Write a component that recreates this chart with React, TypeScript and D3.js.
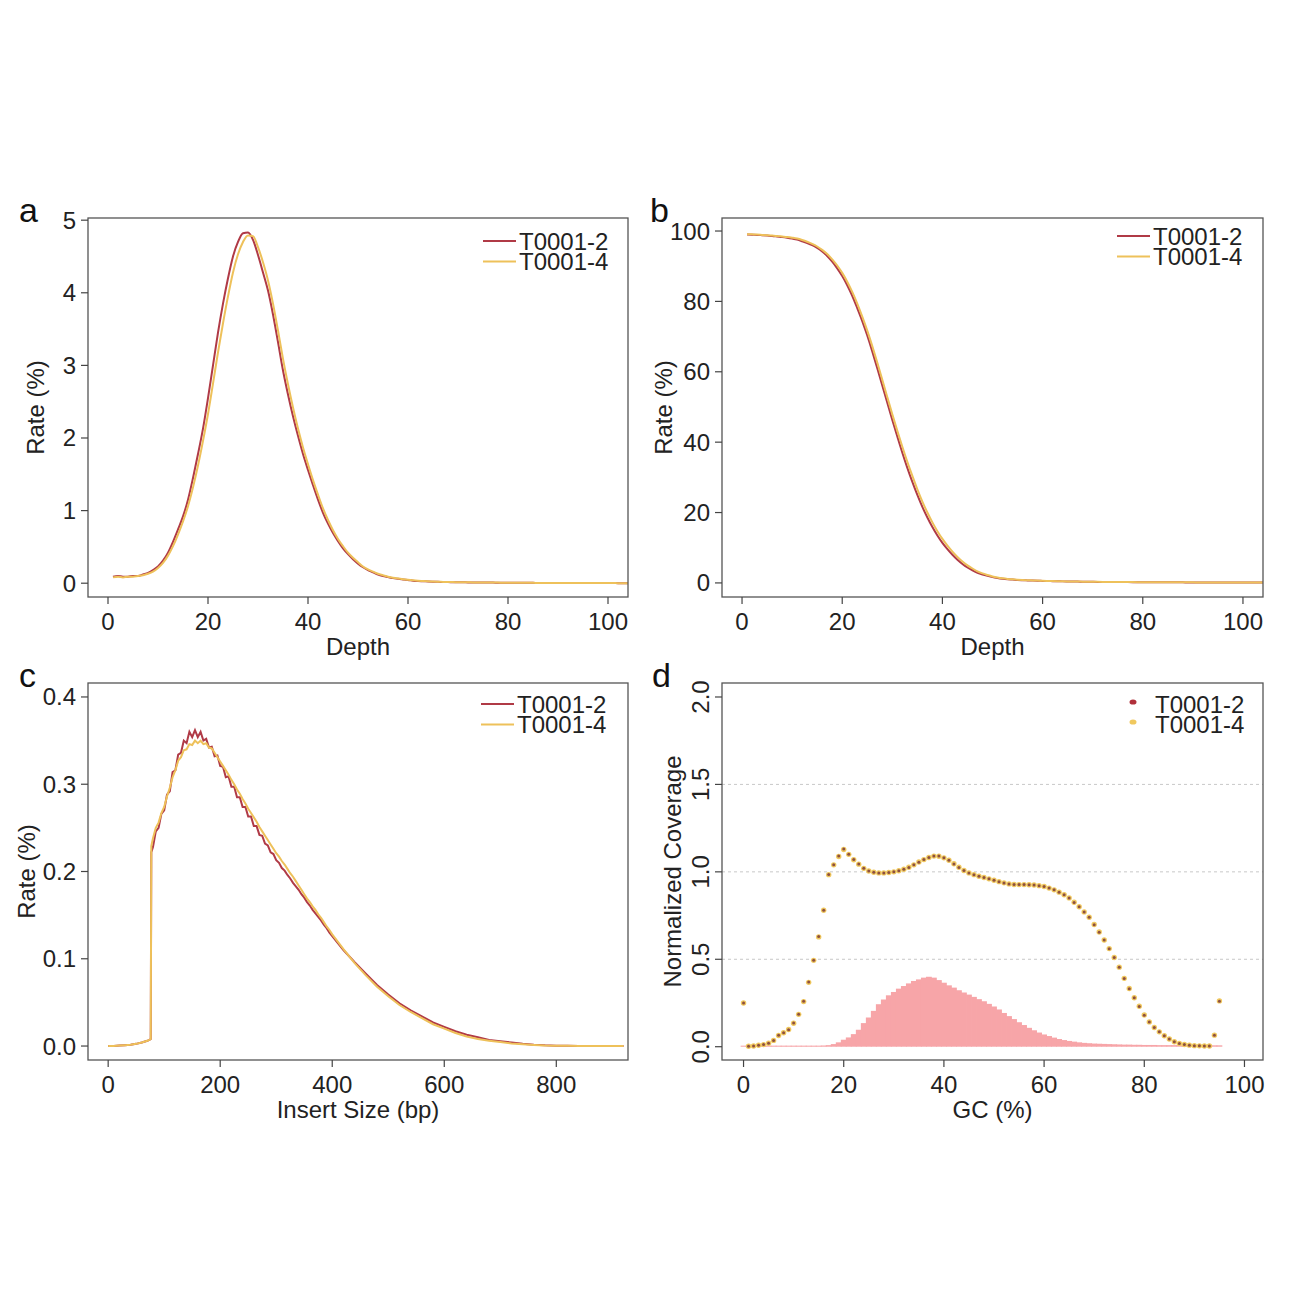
import React from "react";
import * as d3 from "d3";

const FONT = "'Liberation Sans', Arial, Helvetica, sans-serif";
const RED = "#B03A46";
const YEL = "#EEC15A";
const PINK = "#F7A5A8";
const PT_RED = "#B0303A";
const PT_CORE = "#8E5040";
const PT_GOLD = "#F0C85E";

const seriesNames = ["T0001-2", "T0001-4"];

// ---------- Panel a: depth distribution ----------
const depthA = Array.from({ length: 104 }, (_, i) => i + 1);
const rateA_T2 = [
  0.09, 0.10, 0.09, 0.09, 0.10, 0.10, 0.12, 0.14, 0.18, 0.23,
  0.31, 0.42, 0.57, 0.74, 0.92, 1.15, 1.45, 1.78, 2.13, 2.55,
  3.00, 3.45, 3.85, 4.20, 4.50, 4.70, 4.82, 4.83, 4.73, 4.52,
  4.28, 4.03, 3.70, 3.32, 2.93, 2.60, 2.30, 2.03, 1.78, 1.56,
  1.35, 1.15, 0.97, 0.82, 0.69, 0.58, 0.48, 0.40, 0.33, 0.27,
  0.22, 0.18, 0.15, 0.12, 0.10, 0.085, 0.07, 0.06, 0.05, 0.045,
  0.035, 0.03, 0.027, 0.024, 0.021, 0.019, 0.017, 0.015, 0.014, 0.013,
  0.012, 0.011, 0.010, 0.009, 0.009, 0.008, 0.008, 0.007, 0.007, 0.006,
  0.006, 0.005, 0.005, 0.005, 0.005, 0.004, 0.004, 0.004, 0.004, 0.003,
  0.003, 0.003, 0.003, 0.003, 0.002, 0.002, 0.002, 0.002, 0.002, 0.002,
  0.002, 0.001, 0.001, 0.001,
];
const rateA_T4 = [
  0.08, 0.09, 0.08, 0.09, 0.09, 0.10, 0.11, 0.13, 0.16, 0.21,
  0.28, 0.38, 0.51, 0.67, 0.85, 1.06, 1.32, 1.62, 1.96, 2.33,
  2.75, 3.18, 3.58, 3.95, 4.28, 4.53, 4.70, 4.79, 4.78, 4.63,
  4.42, 4.17, 3.85, 3.48, 3.09, 2.74, 2.42, 2.13, 1.87, 1.64,
  1.42, 1.22, 1.03, 0.87, 0.73, 0.61, 0.51, 0.42, 0.35, 0.29,
  0.23, 0.19, 0.16, 0.13, 0.11, 0.09, 0.075, 0.064, 0.055, 0.048,
  0.04, 0.034, 0.03, 0.026, 0.023, 0.02, 0.018, 0.016, 0.015, 0.014,
  0.013, 0.012, 0.011, 0.010, 0.009, 0.009, 0.008, 0.008, 0.007, 0.007,
  0.006, 0.006, 0.005, 0.005, 0.005, 0.004, 0.004, 0.004, 0.004, 0.003,
  0.003, 0.003, 0.003, 0.003, 0.002, 0.002, 0.002, 0.002, 0.002, 0.002,
  0.002, 0.001, 0.001, 0.001,
];

// ---------- Panel b: cumulative depth ----------
const cumB_T2 = [
  99.0, 98.95, 98.9, 98.8, 98.7, 98.6, 98.45, 98.3, 98.1, 97.85,
  97.55, 97.1, 96.6, 96.0, 95.2, 94.2, 92.9, 91.3, 89.4, 87.2,
  84.6, 81.6, 78.1, 74.4, 70.3, 65.8, 61.0, 56.1, 51.2, 46.3,
  41.6, 37.0, 32.7, 28.7, 25.0, 21.6, 18.6, 15.9, 13.5, 11.4,
  9.6, 8.0, 6.6, 5.4, 4.4, 3.6, 2.9, 2.4, 2.0, 1.65,
  1.4, 1.2, 1.05, 0.95, 0.85, 0.78, 0.72, 0.67, 0.62, 0.58,
  0.54, 0.5, 0.47, 0.44, 0.41, 0.39, 0.37, 0.35, 0.33, 0.31,
  0.29, 0.28, 0.27, 0.26, 0.25, 0.24, 0.23, 0.22, 0.21, 0.2,
  0.19, 0.19, 0.18, 0.18, 0.17, 0.17, 0.16, 0.16, 0.15, 0.15,
  0.14, 0.14, 0.13, 0.13, 0.13, 0.12, 0.12, 0.12, 0.11, 0.11,
  0.11, 0.1, 0.1, 0.1,
];
const cumB_T4 = [
  99.1, 99.05, 99.0, 98.9, 98.8, 98.7, 98.6, 98.45, 98.3, 98.1,
  97.85, 97.45, 96.95, 96.35, 95.6, 94.65, 93.45, 91.95, 90.2, 88.1,
  85.6, 82.7, 79.4, 75.7, 71.7, 67.3, 62.6, 57.7, 52.8, 47.9,
  43.2, 38.7, 34.4, 30.4, 26.6, 23.1, 20.0, 17.2, 14.7, 12.5,
  10.6, 8.9, 7.4, 6.1, 5.0, 4.1, 3.3, 2.7, 2.25, 1.85,
  1.55, 1.32, 1.14, 1.02, 0.92, 0.84, 0.77, 0.71, 0.66, 0.61,
  0.56, 0.52, 0.49, 0.46, 0.43, 0.4, 0.38, 0.36, 0.34, 0.32,
  0.3, 0.29, 0.28, 0.27, 0.26, 0.25, 0.24, 0.23, 0.22, 0.21,
  0.2, 0.2, 0.19, 0.19, 0.18, 0.18, 0.17, 0.17, 0.16, 0.16,
  0.15, 0.15, 0.14, 0.14, 0.14, 0.13, 0.13, 0.13, 0.12, 0.12,
  0.12, 0.11, 0.11, 0.11,
];

// ---------- Panel c: insert size ----------
const insertSize = [
  0, 10, 20, 30, 40, 50, 60, 70, 75, 76, 77,
  80, 85, 90, 95, 100, 105, 110, 115, 120, 125, 130, 135, 140, 145, 150, 155,
  160, 165, 170, 175, 180, 185, 190, 195, 200, 205, 210, 215, 220, 225, 230,
  235, 240, 245, 250, 255, 260, 265, 270, 275, 280, 285, 290, 295, 300, 305,
  310, 315, 320, 325, 330, 335, 340, 345, 350, 355, 360, 365, 370, 375, 380,
  385, 390, 395, 400,
  420, 440, 460, 480, 500, 520, 540, 560, 580, 600, 620, 640, 660, 680, 700,
  720, 740, 760, 780, 800, 820, 840, 860, 880, 900, 920,
];
const rateC_T2 = [
  0, 0, 0.0005, 0.001, 0.0015, 0.0025, 0.004, 0.006, 0.0075, 0.008, 0.222,
  0.228, 0.246, 0.250, 0.266, 0.270, 0.288, 0.292, 0.314, 0.316, 0.334, 0.336,
  0.350, 0.347, 0.360, 0.354, 0.362, 0.354, 0.360, 0.350, 0.352, 0.342, 0.343,
  0.332, 0.333, 0.321, 0.320, 0.308, 0.309, 0.297, 0.297, 0.285, 0.285, 0.274,
  0.274, 0.263, 0.263, 0.252, 0.252, 0.242, 0.241, 0.232, 0.230, 0.222, 0.220,
  0.213, 0.210, 0.204, 0.201, 0.196, 0.192, 0.187, 0.183, 0.179, 0.174, 0.170,
  0.165, 0.161, 0.156, 0.152, 0.148, 0.144, 0.139, 0.135, 0.130, 0.126,
  0.110, 0.096, 0.083, 0.070, 0.059, 0.049, 0.041, 0.034, 0.027, 0.022, 0.017,
  0.013, 0.010, 0.007, 0.0055, 0.004, 0.0025, 0.0015, 0.0008, 0.0004, 0.0002,
  0.0001, 0, 0, 0, 0,
];
const rateC_T4 = [
  0, 0, 0.0005, 0.001, 0.0015, 0.0025, 0.004, 0.006, 0.0075, 0.008, 0.229,
  0.238, 0.250, 0.256, 0.267, 0.274, 0.286, 0.296, 0.308, 0.316, 0.327, 0.331,
  0.339, 0.340, 0.346, 0.345, 0.350, 0.347, 0.350, 0.346, 0.347, 0.342, 0.341,
  0.336, 0.331, 0.326, 0.321, 0.316, 0.311, 0.305, 0.300, 0.294, 0.289, 0.283,
  0.278, 0.272, 0.267, 0.262, 0.257, 0.251, 0.246, 0.241, 0.236, 0.231, 0.226,
  0.221, 0.217, 0.212, 0.208, 0.203, 0.198, 0.194, 0.189, 0.184, 0.179, 0.174,
  0.169, 0.165, 0.160, 0.156, 0.151, 0.147, 0.142, 0.137, 0.133, 0.128,
  0.111, 0.095, 0.081, 0.068, 0.057, 0.047, 0.039, 0.032, 0.025, 0.020, 0.015,
  0.011, 0.008, 0.006, 0.0045, 0.003, 0.002, 0.0012, 0.0006, 0.0003, 0.0002,
  0.0001, 0, 0, 0, 0,
];

// ---------- Panel d: GC bias ----------
const gcPct = Array.from({ length: 96 }, (_, i) => i);
const normCov_T2 = [
  0.25, 0.003, 0.004, 0.008, 0.012, 0.02, 0.035, 0.065, 0.08, 0.097,
  0.135, 0.186, 0.26, 0.37, 0.495, 0.63, 0.78, 0.985, 1.04, 1.09,
  1.13, 1.10, 1.07, 1.045, 1.02, 1.005, 0.998, 0.994, 0.994, 0.996,
  1.0, 1.006, 1.015, 1.025, 1.04, 1.055, 1.07, 1.082, 1.09, 1.09,
  1.08, 1.066, 1.045, 1.025, 1.008, 0.993, 0.983, 0.975, 0.967, 0.96,
  0.952, 0.944, 0.936, 0.93, 0.928, 0.927, 0.927, 0.926, 0.925, 0.921,
  0.916, 0.907, 0.897, 0.884, 0.869, 0.85, 0.825, 0.80, 0.77, 0.74,
  0.698, 0.655, 0.61, 0.56, 0.51, 0.455, 0.39, 0.332, 0.28, 0.23,
  0.18, 0.142, 0.11, 0.085, 0.063, 0.044, 0.028, 0.019, 0.013, 0.009,
  0.006, 0.005, 0.004, 0.004, 0.066, 0.26,
];
const normCov_T4 = [
  0.25, 0.003, 0.004, 0.008, 0.012, 0.02, 0.036, 0.064, 0.08, 0.098,
  0.134, 0.185, 0.258, 0.368, 0.494, 0.628, 0.78, 0.984, 1.04, 1.088,
  1.128, 1.10, 1.069, 1.044, 1.02, 1.005, 0.998, 0.994, 0.994, 0.996,
  1.0, 1.006, 1.015, 1.026, 1.04, 1.056, 1.07, 1.082, 1.09, 1.089,
  1.08, 1.066, 1.046, 1.026, 1.008, 0.994, 0.984, 0.975, 0.968, 0.96,
  0.952, 0.944, 0.937, 0.931, 0.928, 0.927, 0.927, 0.926, 0.925, 0.921,
  0.916, 0.907, 0.897, 0.884, 0.869, 0.851, 0.826, 0.80, 0.771, 0.74,
  0.699, 0.656, 0.61, 0.561, 0.51, 0.455, 0.391, 0.333, 0.28, 0.231,
  0.181, 0.142, 0.11, 0.085, 0.063, 0.044, 0.028, 0.019, 0.013, 0.009,
  0.006, 0.005, 0.004, 0.004, 0.066, 0.262,
];
const gcReadDist = [
  0.006, 0.006, 0.006, 0.006, 0.006, 0.006, 0.006, 0.006, 0.006, 0.006,
  0.006, 0.006, 0.006, 0.006, 0.006, 0.006, 0.007, 0.009, 0.015, 0.025,
  0.04, 0.053, 0.072, 0.097, 0.135, 0.167, 0.205, 0.243, 0.27, 0.294,
  0.313, 0.332, 0.347, 0.362, 0.376, 0.385, 0.395, 0.40, 0.395, 0.381,
  0.366, 0.351, 0.338, 0.323, 0.31, 0.298, 0.285, 0.272, 0.26, 0.245,
  0.23, 0.213, 0.193, 0.175, 0.158, 0.14, 0.124, 0.108, 0.094, 0.081,
  0.07, 0.061, 0.052, 0.044, 0.038, 0.033, 0.029, 0.025, 0.022, 0.02,
  0.018, 0.017, 0.016, 0.015, 0.014, 0.013, 0.012, 0.012, 0.011, 0.011,
  0.01, 0.01, 0.01, 0.009, 0.009, 0.009, 0.009, 0.008, 0.008, 0.008,
  0.008, 0.008, 0.008, 0.008, 0.008, 0.008,
];

const depthTicks = [0, 20, 40, 60, 80, 100];
const rateATicks = [0, 1, 2, 3, 4, 5];
const cumTicks = [0, 20, 40, 60, 80, 100];
const insertTicks = [0, 200, 400, 600, 800];
const rateCTicks = [0, 0.1, 0.2, 0.3, 0.4];
const gcTicks = [0, 20, 40, 60, 80, 100];
const covTicks = [0, 0.5, 1, 1.5, 2];
const covGrid = [0.5, 1, 1.5];

type Box = { L: number; R: number; T: number; B: number };

function Frame(props: {
  box: Box;
  x: d3.ScaleLinear<number, number>;
  y: d3.ScaleLinear<number, number>;
  xTicks: number[];
  yTicks: number[];
  yFmt: (v: number) => string;
  xTitle: string;
  yTitle: string;
  yTitleX: number;
  rotY?: boolean;
  letter: string;
  letterX: number;
  children?: React.ReactNode;
  id: string;
}) {
  const { box, x, y } = props;
  const tl = 7;
  return (
    <g fontFamily={FONT} fill="#222">
      <defs>
        <clipPath id={props.id}>
          <rect x={box.L} y={box.T} width={box.R - box.L} height={box.B - box.T} />
        </clipPath>
      </defs>
      <g clipPath={`url(#${props.id})`}>{props.children}</g>
      <rect x={box.L} y={box.T} width={box.R - box.L} height={box.B - box.T} fill="none" stroke="#555" strokeWidth={1.3} />
      {props.xTicks.map((t) => (
        <g key={"xt" + t}>
          <line x1={x(t)} x2={x(t)} y1={box.B} y2={box.B + tl} stroke="#444" strokeWidth={1.2} />
          <text x={x(t)} y={box.B + 24} textAnchor="middle" dominantBaseline="central" fontSize={24}>
            {String(t)}
          </text>
        </g>
      ))}
      {props.yTicks.map((t) => (
        <g key={"yt" + t}>
          <line x1={box.L - tl} x2={box.L} y1={y(t)} y2={y(t)} stroke="#444" strokeWidth={1.2} />
          {props.rotY ? (
            <text
              transform={`translate(${box.L - 22},${y(t)}) rotate(-90)`}
              textAnchor="middle"
              dominantBaseline="central"
              fontSize={24}
            >
              {props.yFmt(t)}
            </text>
          ) : (
            <text x={box.L - 12} y={y(t)} textAnchor="end" dominantBaseline="central" fontSize={24}>
              {props.yFmt(t)}
            </text>
          )}
        </g>
      ))}
      <text x={(box.L + box.R) / 2} y={box.B + 49} textAnchor="middle" dominantBaseline="central" fontSize={24}>
        {props.xTitle}
      </text>
      <text
        transform={`translate(${props.yTitleX},${(box.T + box.B) / 2}) rotate(-90)`}
        textAnchor="middle"
        dominantBaseline="central"
        fontSize={24}
      >
        {props.yTitle}
      </text>
      <text x={props.letterX} y={box.T + 4} fontSize={34} fill="#111">
        {props.letter}
      </text>
    </g>
  );
}

function LineLegend({ x, y }: { x: number; y: number }) {
  return (
    <g fontFamily={FONT} fontSize={24} fill="#222">
      {seriesNames.map((n, i) => (
        <g key={n}>
          <line x1={x} x2={x + 33} y1={y + i * 20.5} y2={y + i * 20.5} stroke={i === 0 ? RED : YEL} strokeWidth={2.2} />
          <text x={x + 36} y={y + i * 20.5} dominantBaseline="central">
            {n}
          </text>
        </g>
      ))}
    </g>
  );
}

export default function App() {
  const boxA: Box = { L: 88, R: 628, T: 218, B: 597 };
  const boxB: Box = { L: 722, R: 1263, T: 218, B: 597 };
  const boxC: Box = { L: 88, R: 628, T: 683, B: 1060 };
  const boxD: Box = { L: 722, R: 1263, T: 683, B: 1060 };

  const xA = d3.scaleLinear().domain([-4, 104]).range([boxA.L, boxA.R]);
  const yA = d3.scaleLinear().domain([-0.19, 5.03]).range([boxA.B, boxA.T]);
  const xB = d3.scaleLinear().domain([-4, 104]).range([boxB.L, boxB.R]);
  const yB = d3.scaleLinear().domain([-4, 103.7]).range([boxB.B, boxB.T]);
  const xC = d3.scaleLinear().domain([-36, 928]).range([boxC.L, boxC.R]);
  const yC = d3.scaleLinear().domain([-0.016, 0.416]).range([boxC.B, boxC.T]);
  const xD = d3.scaleLinear().domain([-4.3, 103.7]).range([boxD.L, boxD.R]);
  const yD = d3.scaleLinear().domain([-0.076, 2.08]).range([boxD.B, boxD.T]);

  const mkSmooth = (xs: number[], ys: number[], sx: any, sy: any) =>
    d3.line<number>().x((_, i) => sx(xs[i])).y((d) => sy(d)).curve(d3.curveMonotoneX)(ys) || "";
  const mk = (xs: number[], ys: number[], sx: any, sy: any) =>
    d3.line<number>().x((_, i) => sx(xs[i])).y((d) => sy(d))(ys) || "";

  const bw = xD(1) - xD(0);

  return (
    <svg width={1289} height={1289} style={{ position: "absolute", left: 0, top: 0 }}>
      <rect width={1289} height={1289} fill="#fff" />

      <Frame box={boxA} x={xA} y={yA} xTicks={depthTicks} yTicks={rateATicks} yFmt={(v) => String(v)}
        xTitle="Depth" yTitle="Rate (%)" yTitleX={35} letter="a" letterX={19} id="clipA">
        <path d={mkSmooth(depthA, rateA_T2, xA, yA)} fill="none" stroke={RED} strokeWidth={2} />
        <path d={mkSmooth(depthA, rateA_T4, xA, yA)} fill="none" stroke={YEL} strokeWidth={2} />
      </Frame>
      <LineLegend x={483} y={241} />

      <Frame box={boxB} x={xB} y={yB} xTicks={depthTicks} yTicks={cumTicks} yFmt={(v) => String(v)}
        xTitle="Depth" yTitle="Rate (%)" yTitleX={663} letter="b" letterX={650} id="clipB">
        <path d={mkSmooth(depthA, cumB_T2, xB, yB)} fill="none" stroke={RED} strokeWidth={2} />
        <path d={mkSmooth(depthA, cumB_T4, xB, yB)} fill="none" stroke={YEL} strokeWidth={2} />
      </Frame>
      <LineLegend x={1117} y={236} />

      <Frame box={boxC} x={xC} y={yC} xTicks={insertTicks} yTicks={rateCTicks} yFmt={(v) => v.toFixed(1)}
        xTitle="Insert Size (bp)" yTitle="Rate (%)" yTitleX={26} letter="c" letterX={19} id="clipC">
        <path d={mk(insertSize, rateC_T2, xC, yC)} fill="none" stroke={RED} strokeWidth={2} />
        <path d={mk(insertSize, rateC_T4, xC, yC)} fill="none" stroke={YEL} strokeWidth={2} />
      </Frame>
      <LineLegend x={481} y={704} />

      <Frame box={boxD} x={xD} y={yD} xTicks={gcTicks} yTicks={covTicks} yFmt={(v) => v.toFixed(1)}
        xTitle="GC (%)" yTitle="Normalized Coverage" yTitleX={672} rotY letter="d" letterX={652} id="clipD">
        {covGrid.map((g) => (
          <line key={g} x1={boxD.L} x2={boxD.R} y1={yD(g)} y2={yD(g)} stroke="#c8c8c8" strokeWidth={1} strokeDasharray="3,3" />
        ))}
        {gcReadDist.map((v, i) => (
          <rect key={"b" + i} x={xD(gcPct[i]) - bw / 2 - 0.4} width={bw + 0.8} y={yD(v)} height={yD(0) - yD(v)} fill={PINK} />
        ))}
        {normCov_T4.map((v, i) => (
          <circle key={"g" + i} cx={xD(gcPct[i])} cy={yD(v)} r={2.7} fill={PT_GOLD} />
        ))}
        {normCov_T2.map((v, i) => (
          <circle key={"r" + i} cx={xD(gcPct[i])} cy={yD(v)} r={1.5} fill={PT_CORE} />
        ))}
      </Frame>
      <g fontFamily={FONT} fontSize={24} fill="#222">
        <ellipse cx={1133} cy={702} rx={3.5} ry={2.6} fill={PT_RED} />
        <ellipse cx={1133} cy={722} rx={3.5} ry={2.6} fill={PT_GOLD} />
        <text x={1155} y={704} dominantBaseline="central">{seriesNames[0]}</text>
        <text x={1155} y={724.5} dominantBaseline="central">{seriesNames[1]}</text>
      </g>
    </svg>
  );
}
